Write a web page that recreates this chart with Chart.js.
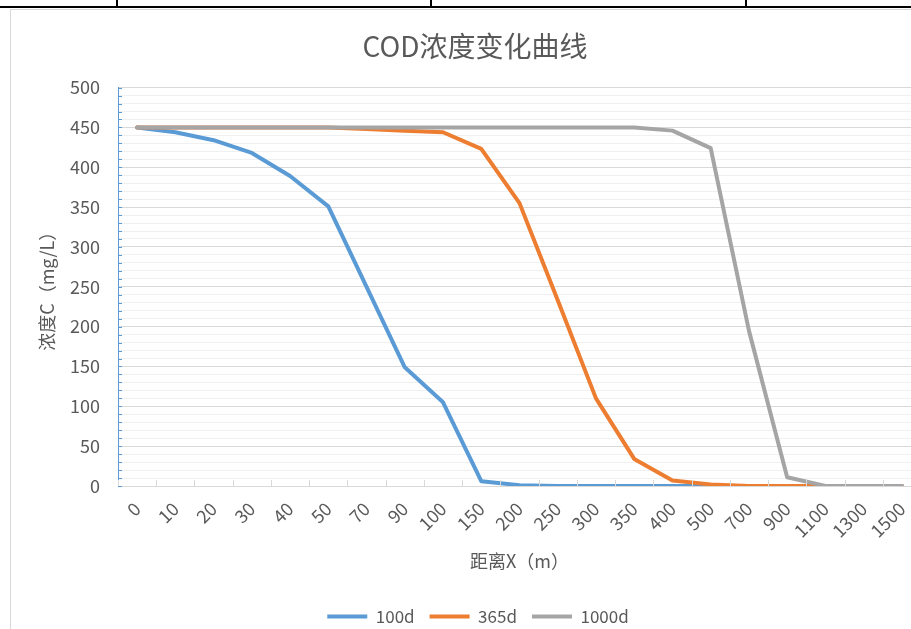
<!DOCTYPE html>
<html>
<head>
<meta charset="utf-8">
<script src="https://cdn.jsdelivr.net/npm/chart.js@4"></script>
<style>
  body { margin: 0; background: #fff; overflow: hidden; width: 911px; height: 629px; position: relative; }
  .sheetTop { position: absolute; left: 0; top: 0; width: 911px; height: 6px; border-bottom: 2px solid #000; }
  .sheetTop span { position: absolute; top: 0; width: 2px; height: 6px; background: #000; }
  .frame { position: absolute; left: 10px; top: 9px; border-left: 1px solid #d9d9d9; border-top: 1px solid #d9d9d9; }
  canvas { display: block; }
</style>
</head>
<body>
<div class="sheetTop"><span style="left:116px"></span><span style="left:430px"></span><span style="left:745px"></span></div>
<div class="frame"><canvas id="codChart" width="936" height="625"></canvas></div>
<script>
const distLabels = ["0","10","20","30","40","50","70","90","100","150","200","250","300","350","400","500","700","900","1100","1300","1500"];
const conc100d  = [450,444,434,418,389,351,250,149,105,6,1,0,0,0,0,0,0,0,0,0,0];
const conc365d  = [450,450,450,450,450,450,448,446,444,423,355,233,110,34,7,2,0,0,0,0,0];
const conc1000d = [450,450,450,450,450,450,450,450,450,450,450,450,450,450,446,424,195,11,0,0,0];

const fontFam = "'Noto Sans CJK SC', 'Noto Sans', sans-serif";
const textGray = "#595959";

// excel style tick marks drawn inside the plot
const innerTicks = {
    id: "innerTicks",
    afterLayout(chart) {
        // excel centres the legend a bit further right
        chart.legend.left += 3;
        chart.legend.right += 3;
    },
    afterDatasetsDraw(chart) {
        const { ctx, chartArea, scales } = chart;
        const x = scales.x, y = scales.y;
        ctx.save();
        ctx.lineWidth = 1;
        ctx.strokeStyle = "#5b9bd5";
        y.ticks.forEach((t, i) => {
            const py = Math.round(y.getPixelForTick(i)) + 0.5;
            ctx.beginPath();
            ctx.moveTo(chartArea.left, py);
            ctx.lineTo(chartArea.left + 4, py);
            ctx.stroke();
        });
        ctx.strokeStyle = "#d9d9d9";
        const half = (x.getPixelForTick(1) - x.getPixelForTick(0)) / 2;
        for (let i = 0; i <= distLabels.length; i++) {
            const px = Math.round(x.getPixelForTick(0) - half + i * half * 2) + 0.5;
            ctx.beginPath();
            ctx.moveTo(px, chartArea.bottom);
            ctx.lineTo(px, chartArea.bottom - 6);
            ctx.stroke();
        }
        ctx.restore();
    }
};

const lineSet = (label, data, color, order) => ({
    label: label,
    data: data,
    borderColor: color,
    backgroundColor: color,
    borderWidth: 4,
    borderCapStyle: "round",
    borderJoinStyle: "round",
    pointRadius: 0,
    pointStyle: "line",
    tension: 0,
    order: order
});

const ctx = document.getElementById("codChart").getContext("2d");

new Chart(ctx, {
    type: "line",
    data: {
        labels: distLabels,
        datasets: [
            lineSet("100d", conc100d, "#5b9bd5", 3),
            lineSet("365d", conc365d, "#ed7d31", 2),
            lineSet("1000d", conc1000d, "#a5a5a5", 1)
        ]
    },
    plugins: [innerTicks],
    options: {
        responsive: false,
        devicePixelRatio: 1,
        animation: false,
        layout: { padding: { left: 18, right: 26, top: 0, bottom: 0 } },
        plugins: {
            title: {
                display: true,
                text: "COD浓度变化曲线",
                color: textGray,
                font: { family: fontFam, size: 28, weight: "normal" },
                padding: { top: 20, bottom: 24 }
            },
            legend: {
                position: "bottom",
                reverse: true,
                labels: {
                    usePointStyle: true,
                    pointStyleWidth: 40,
                    color: textGray,
                    font: { family: fontFam, size: 17 },
                    padding: 15
                }
            },
            tooltip: { enabled: false }
        },
        scales: {
            x: {
                offset: true,
                border: { color: "#d9d9d9", width: 1 },
                grid: { display: true, drawOnChartArea: false, drawTicks: false },
                ticks: {
                    color: textGray,
                    font: { family: fontFam, size: 18 },
                    minRotation: 45,
                    maxRotation: 45,
                    autoSkip: false,
                    padding: 12
                },
                title: {
                    display: true,
                    text: "距离X（m）",
                    color: textGray,
                    font: { family: fontFam, size: 18 },
                    padding: { top: 0, bottom: 21 }
                },
                afterFit: (scale) => { scale.height = 107; }
            },
            y: {
                min: 0,
                max: 500,
                border: { color: "#5b9bd5", width: 1 },
                grid: {
                    drawTicks: false,
                    color: (c) => c.tick.value % 50 === 0 ? "#d9d9d9" : "#f0f0f0"
                },
                ticks: {
                    stepSize: 10,
                    autoSkip: false,
                    color: textGray,
                    font: { family: fontFam, size: 18 },
                    padding: 18,
                    callback: (v) => v % 50 === 0 ? v : ""
                },
                title: {
                    display: true,
                    text: "浓度C（mg/L）",
                    color: textGray,
                    font: { family: fontFam, size: 18 },
                    padding: { top: 7, bottom: 0 }
                },
                afterFit: (scale) => { scale.width = 89; }
            }
        }
    }
});
</script>
</body>
</html>
